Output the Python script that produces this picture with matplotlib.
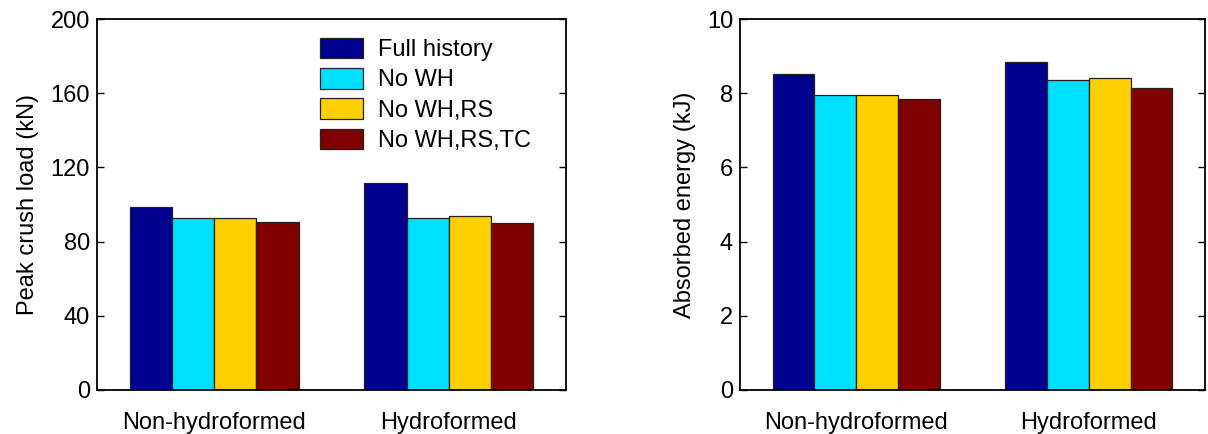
import numpy as np
import matplotlib
matplotlib.use("Agg")
import matplotlib.pyplot as plt

plt.rcParams['font.family'] = ['Liberation Sans', 'DejaVu Sans']

# data
categories = ["Non-hydroformed", "Hydroformed"]
series = ["Full history", "No WH", "No WH,RS", "No WH,RS,TC"]
peak_load = [[98.8, 111.8],   # Full history
             [92.6, 92.6],    # No WH
             [92.6, 93.7],    # No WH,RS
             [90.8, 90.0]]    # No WH,RS,TC
energy = [[8.51, 8.85],
          [7.94, 8.35],
          [7.94, 8.40],
          [7.85, 8.15]]
colors = [(0, 0, 0.5625), (0, 0.875, 1), (1, 0.8125, 0), (0.5, 0, 0)]

fig = plt.figure(figsize=(12.08, 4.34), dpi=100)
ax1 = fig.add_axes([97 / 1208, 1 - 390 / 434, 469 / 1208, 371 / 434])
ax2 = fig.add_axes([740 / 1208, 1 - 390 / 434, 465 / 1208, 371 / 434])

x = np.arange(1, len(categories) + 1)
bw = 0.18
offsets = (np.arange(len(series)) - 1.5) * bw


def draw(ax, vals, ylim, yticks, ylabel):
    for i, name in enumerate(series):
        ax.bar(x + offsets[i], vals[i], bw, color=colors[i],
               edgecolor='#222222', linewidth=0.9, label=name)
    ax.set_xlim(0.5, 2.5)
    ax.set_ylim(*ylim)
    ax.set_yticks(yticks)
    ax.set_xticks(x)
    ax.set_xticklabels(categories)
    ax.tick_params(axis='y', direction='in', length=5, width=1,
                   right=True, labelsize=17, pad=5)
    ax.tick_params(axis='x', length=0, labelsize=17, pad=16)
    ax.set_ylabel(ylabel, fontsize=17, labelpad=8)
    for s in ax.spines.values():
        s.set_linewidth(1.3)


draw(ax1, peak_load, (0, 200), np.arange(0, 201, 40), "Peak crush load (kN)")
draw(ax2, energy, (0, 10), np.arange(0, 11, 2), "Absorbed energy (kJ)")

ax1.legend(loc='upper left', bbox_to_anchor=(0.475, 0.95), frameon=False,
           fontsize=17, handlelength=1.83, handleheight=0.96,
           handletextpad=0.62, labelspacing=0.3, borderpad=0,
           borderaxespad=0)

fig.savefig("out.png", dpi=100)
